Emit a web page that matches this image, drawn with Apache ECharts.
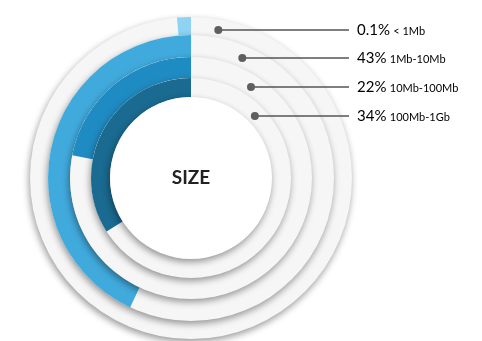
<!DOCTYPE html>
<html>
<head>
<meta charset="utf-8">
<script src="https://cdn.jsdelivr.net/npm/echarts@6/dist/echarts.min.js"></script>
<style>
  html, body { margin: 0; padding: 0; background: #ffffff; }
  #chart { width: 482px; height: 341px; }
</style>
</head>
<body>
<div id="chart"></div>
<script>
// File size distribution, one ring per size bucket (outer to inner)
const sizeRanges = ['< 1Mb', '1Mb-10Mb', '10Mb-100Mb', '100Mb-1Gb'];
const sharePercent = [0.1, 43, 22, 34];
const ringColors = ['#8fd2f2', '#41aadd', '#1f8bc3', '#1a6a91'];
const centerTitle = 'SIZE';

// Ring geometry (px)
const cx = 191, cy = 178;
const ringEdges = [161, 143, 121, 100, 81]; // outer edge of each ring, then hole radius
const labelY = [30, 58, 87, 116];
const labelLineEnd = 349;
const labelTextX = 357;

const discShadow = {
  shadowBlur: 7,
  shadowOffsetX: -1,
  shadowOffsetY: 3,
  shadowColor: 'rgba(0,0,0,0.4)'
};

const series = [];
sharePercent.forEach(function (v, i) {
  // backing disc with a soft drop shadow
  series.push({
    type: 'pie',
    silent: true,
    center: [cx, cy],
    radius: [0, ringEdges[i]],
    label: { show: false },
    labelLine: { show: false },
    itemStyle: Object.assign({ color: '#f6f6f6' }, discShadow),
    data: [{ value: 1 }]
  });
  // coloured share arc, counter-clockwise from 12 o'clock
  series.push({
    type: 'pie',
    silent: true,
    center: [cx, cy],
    radius: [ringEdges[i + 1], ringEdges[i]],
    startAngle: 90,
    clockwise: false,
    minAngle: 5,
    label: { show: false },
    labelLine: { show: false },
    data: [
      { name: sizeRanges[i], value: v, itemStyle: { color: ringColors[i] } },
      { name: 'rest', value: 100 - v, itemStyle: { color: 'rgba(0,0,0,0)' } }
    ]
  });
});
// centre hole
series.push({
  type: 'pie',
  silent: true,
  center: [cx, cy],
  radius: [0, ringEdges[4]],
  label: { show: false },
  labelLine: { show: false },
  itemStyle: Object.assign({ color: '#ffffff' }, discShadow),
  data: [{ value: 1 }]
});

// Callout dots, leader lines and legend texts
const graphics = [];
sharePercent.forEach(function (v, i) {
  const rm = (ringEdges[i] + ringEdges[i + 1]) / 2 - 1.5;
  const dy = cy - labelY[i];
  const dotX = cx + Math.sqrt(Math.max(rm * rm - dy * dy, 0));
  graphics.push({
    type: 'line',
    z: 100,
    shape: { x1: dotX, y1: labelY[i], x2: labelLineEnd, y2: labelY[i] },
    style: { stroke: '#555555', lineWidth: 1.5 }
  });
  graphics.push({
    type: 'circle',
    z: 101,
    shape: { cx: dotX, cy: labelY[i], r: 4 },
    style: { fill: '#5f5f5f' }
  });
  graphics.push({
    type: 'text',
    z: 101,
    x: labelTextX,
    y: labelY[i],
    style: {
      text: '{p|' + v + '%} {r|' + sizeRanges[i] + '}',
      verticalAlign: 'middle',
      rich: {
        p: { fontFamily: 'Lato', fontSize: 15, color: '#2e2e2e' },
        r: { fontFamily: 'Lato', fontSize: 11, color: '#2e2e2e', padding: [2, 0, 0, 0] }
      }
    }
  });
});
graphics.push({
  type: 'text',
  z: 101,
  x: cx,
  y: cy,
  style: {
    text: centerTitle,
    align: 'center',
    verticalAlign: 'middle',
    fontFamily: 'Lato',
    fontWeight: 'bold',
    fontSize: 19,
    fill: '#222222'
  }
});

const chart = echarts.init(document.getElementById('chart'), null, { renderer: 'canvas' });
chart.setOption({
  animation: false,
  backgroundColor: '#ffffff',
  series: series,
  graphic: graphics
});
</script>
</body>
</html>
